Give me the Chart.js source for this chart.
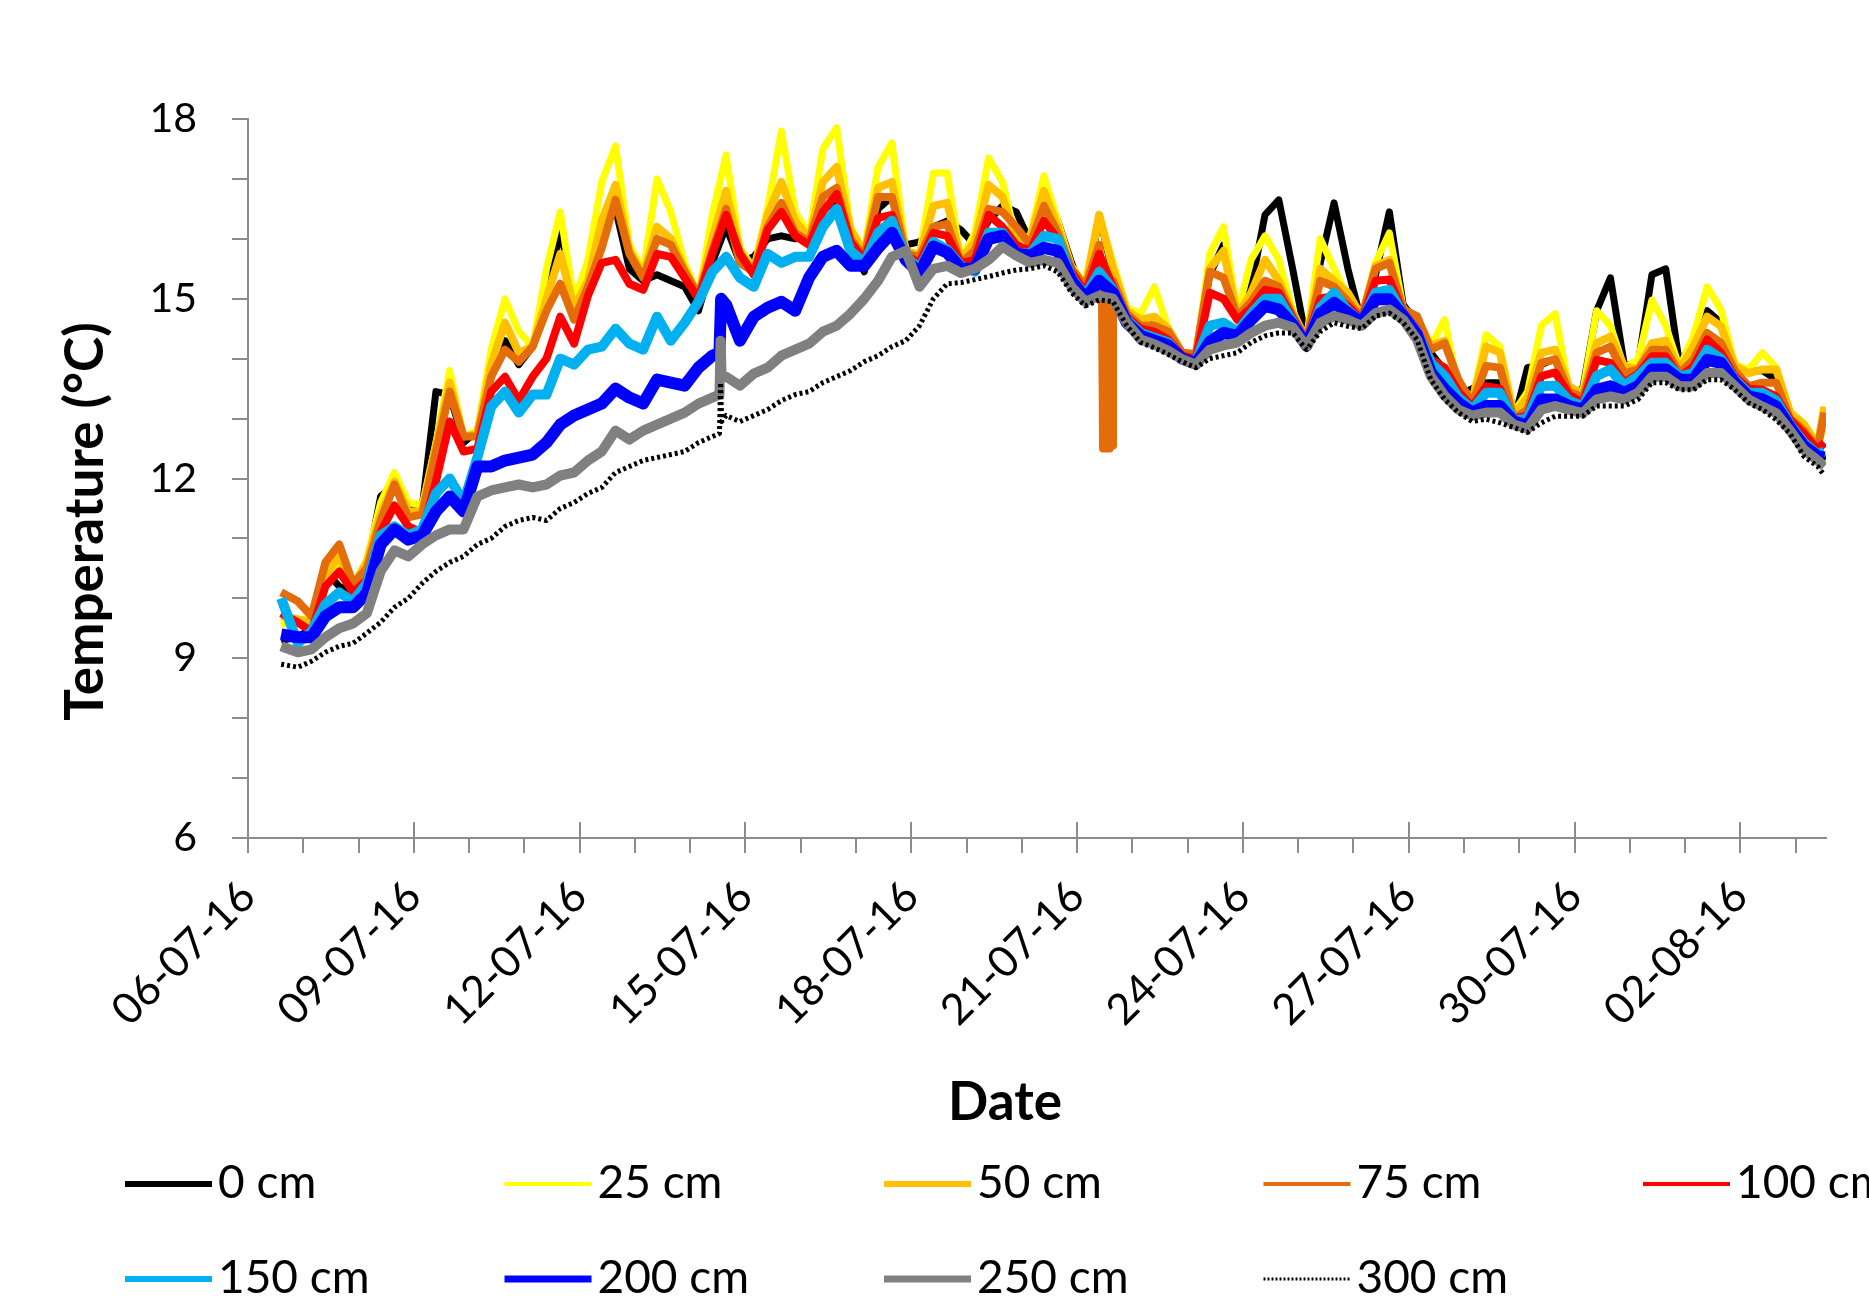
<!DOCTYPE html>
<html>
<head>
<meta charset="utf-8">
<script src="https://cdn.jsdelivr.net/npm/chart.js@4.4.1/dist/chart.umd.min.js"></script>
<style>
html,body{margin:0;padding:0;background:#ffffff;}
#wrap{width:1869px;height:1306px;position:relative;}
</style>
</head>
<body>
<div id="wrap"><canvas id="c" width="1869" height="1306"></canvas></div>
<script>
// ---------------- DATA (days since 06-07-16 00:00) ----------------
const times = [0.6, 0.9, 1.15, 1.4, 1.65, 1.9, 2.15, 2.4, 2.65, 2.9, 3.15, 3.4, 3.65, 3.9, 4.15, 4.4, 4.65, 4.9, 5.15, 5.4,
  5.65, 5.9, 6.15, 6.4, 6.65, 6.9, 7.15, 7.4, 7.65, 7.9, 8.15, 8.4, 8.65, 8.9, 9.15, 9.4, 9.65, 9.9, 10.15, 10.4,
  10.65, 10.9, 11.15, 11.4, 11.65, 11.9, 12.15, 12.4, 12.65, 12.9, 13.15, 13.4, 13.65, 13.9, 14.15, 14.4, 14.65, 14.9, 15.15, 15.4,
  15.65, 15.9, 16.15, 16.4, 16.65, 16.9, 17.15, 17.4, 17.65, 17.9, 18.15, 18.4, 18.65, 18.9, 19.15, 19.4, 19.65, 19.9, 20.15, 20.4,
  20.65, 20.9, 21.15, 21.4, 21.65, 21.9, 22.15, 22.4, 22.65, 22.9, 23.15, 23.4, 23.65, 23.9, 24.15, 24.4, 24.65, 24.9, 25.15, 25.4,
  25.65, 25.9, 26.15, 26.4, 26.65, 26.9, 27.15, 27.4, 27.65, 27.9, 28.15, 28.4, 28.52];

const t0cm = [9.3, 9.35, 9.5, 10.45, 10.2, 10.1, 10.5, 11.7, 11.9, 11.5,
  11.5, 13.45, 13.4, 12.6, 12.8, 13.8, 14.3, 13.9, 14.2, 14.9,
  16.2, 14.9, 15.4, 16.3, 16.5, 15.5, 15.3, 15.4, 15.3, 15.2,
  14.8, 15.6, 16.2, 15.6, 15.7, 16.0, 16.05, 16.0, 16.1, 16.5,
  16.6, 16.0, 15.45, 16.5, 16.7, 15.9, 15.95, 16.2, 16.3, 16.15,
  15.9, 16.3, 16.55, 16.45, 15.95, 16.9, 16.3, 15.6, 15.0, 16.4,
  15.4, 14.7, 14.6, 14.7, 14.4, 14.1, 14.0, 15.4, 15.9, 14.7,
  15.2, 16.4, 16.65, 15.5, 14.3, 15.6, 16.6, 15.5, 14.6, 15.4,
  16.45, 14.9, 14.6, 14.1, 13.8, 13.4, 13.5, 13.6, 13.6, 12.95,
  13.85, 13.9, 14.0, 13.4, 13.5, 14.8, 15.35, 13.9, 13.9, 15.4,
  15.5, 13.9, 14.3, 14.8, 14.6, 13.9, 13.8, 13.8, 13.65, 13.05,
  12.9, 12.5, 12.3];

const t25cm = [9.55, 9.65, 9.65, 10.3, 10.6, 10.2, 10.65, 11.6, 12.1, 11.6,
  11.55, 12.6, 13.8, 12.7, 12.8, 14.15, 15.0, 14.45, 14.2, 15.5,
  16.45, 14.95, 15.65, 16.95, 17.55, 15.9, 15.45, 17.0, 16.45, 15.6,
  15.05, 16.4, 17.4, 15.85, 15.5, 16.5, 17.8, 16.45, 16.05, 17.5,
  17.85, 16.2, 15.8, 17.2, 17.6, 15.8, 15.75, 17.1, 17.1, 15.65,
  16.1, 17.35, 16.95, 16.0, 16.05, 17.05, 16.3, 15.55, 15.25, 16.4,
  15.6, 14.85, 14.75, 15.2, 14.5, 14.1, 14.05, 15.75, 16.2, 14.75,
  15.65, 16.05, 15.65, 14.8, 14.32, 16.0, 15.5, 15.0, 14.7, 15.6,
  16.1, 14.85, 14.65, 14.21, 14.65, 13.5, 13.3, 14.4, 14.2, 13.1,
  13.45, 14.55, 14.75, 13.5, 13.45, 14.8, 14.55, 13.85, 13.98, 14.98,
  14.55, 13.85, 14.37, 15.2, 14.82, 13.9, 13.82, 14.1, 13.85, 13.1,
  12.93, 12.55, 12.9];

const t50cm = [9.7, 9.65, 9.6, 10.4, 10.7, 10.2, 10.6, 11.4, 11.95, 11.45,
  11.45, 12.55, 13.6, 12.7, 12.75, 13.9, 14.6, 14.1, 14.2, 15.0,
  15.75, 14.85, 15.3, 16.3, 16.9, 15.8, 15.4, 16.2, 16.0, 15.5,
  15.05, 16.0, 16.8, 15.8, 15.45, 16.4, 16.95, 16.3, 16.0, 16.95,
  17.2, 16.15, 15.75, 16.85, 16.95, 15.8, 15.72, 16.55, 16.6, 15.65,
  15.95, 16.9, 16.7, 16.0, 16.0, 16.8, 16.2, 15.5, 15.2, 16.4,
  15.5, 14.8, 14.65, 14.7, 14.5, 14.1, 14.05, 15.5, 15.8, 14.72,
  15.1, 15.65, 15.3, 14.76, 14.3, 15.5, 15.3, 15.1, 14.7, 15.55,
  15.65, 14.82, 14.68, 14.21, 14.3, 13.6, 13.3, 14.2, 14.1, 13.05,
  13.35, 14.1, 14.15, 13.54, 13.4, 14.26, 14.37, 13.87, 13.82, 14.26,
  14.3, 13.82, 14.2, 14.7, 14.54, 13.87, 13.76, 13.82, 13.82, 13.1,
  12.9, 12.55, 13.2];

const t75cm = [10.1, 9.95, 9.7, 10.6, 10.9, 10.25, 10.5, 11.3, 11.9, 11.35,
  11.4, 12.45, 13.45, 12.7, 12.7, 13.7, 14.15, 13.95, 14.2, 14.8,
  15.25, 14.65, 15.2, 15.85, 16.65, 15.75, 15.35, 16.0, 15.9, 15.45,
  15.05, 15.8, 16.5, 15.6, 15.45, 16.2, 16.6, 16.1, 15.95, 16.7,
  16.85, 16.0, 15.7, 16.7, 16.7, 15.75, 15.7, 16.2, 16.25, 15.6,
  15.8, 16.5, 16.45, 16.2, 15.9, 16.55, 16.1, 15.5, 15.2, 15.9,
  15.3, 14.75, 14.55, 14.55, 14.45, 14.1, 14.08, 15.45, 15.35, 14.7,
  14.95, 15.3, 15.2, 14.72, 14.3, 15.3, 15.2, 14.95, 14.68, 15.5,
  15.6, 14.82, 14.71, 14.15, 14.26, 13.65, 13.25, 13.88, 13.85, 13.0,
  13.15, 13.93, 13.99, 13.45, 13.35, 14.1, 14.2, 13.75, 13.82, 14.15,
  14.15, 13.76, 13.98, 14.43, 14.26, 13.8, 13.54, 13.6, 13.6, 13.0,
  12.8, 12.5, 13.1];

const t100cm = [9.75, 9.6, 9.45, 10.2, 10.45, 10.1, 10.3, 11.1, 11.55, 11.2,
  11.1, 11.95, 12.95, 12.45, 12.5, 13.45, 13.7, 13.3, 13.7, 14.0,
  14.7, 14.25, 15.05, 15.6, 15.65, 15.25, 15.15, 15.75, 15.7, 15.35,
  15.0, 15.75, 16.4, 15.75, 15.4, 16.15, 16.45, 16.05, 15.9, 16.45,
  16.75, 15.95, 15.65, 16.35, 16.4, 15.72, 15.6, 16.1, 16.05, 15.6,
  15.65, 16.4, 16.2, 15.9, 15.8, 16.3, 16.0, 15.45, 15.1, 15.75,
  15.2, 14.7, 14.5, 14.45, 14.32, 14.05, 14.0, 15.1, 15.0, 14.65,
  14.85, 15.15, 15.1, 14.68, 14.28, 15.0, 15.05, 14.88, 14.65, 15.3,
  15.32, 14.78, 14.49, 13.99, 13.85, 13.45, 13.2, 13.54, 13.5, 13.0,
  13.05, 13.71, 13.77, 13.4, 13.26, 13.98, 13.93, 13.6, 13.75, 14.04,
  14.04, 13.7, 13.87, 14.32, 14.1, 13.7, 13.5, 13.48, 13.37, 12.98,
  12.75, 12.48, 12.6];

const t150cm = [10.0, 9.25, 9.45, 9.9, 10.1, 9.95, 10.25, 11.05, 11.2, 11.05,
  11.15, 11.75, 12.0, 11.6, 12.35, 13.2, 13.45, 13.1, 13.4, 13.4,
  14.0, 13.9, 14.15, 14.2, 14.5, 14.25, 14.15, 14.7, 14.3, 14.6,
  14.95, 15.45, 15.7, 15.35, 15.2, 15.75, 15.6, 15.7, 15.7, 16.2,
  16.5, 15.8, 15.6, 16.1, 16.3, 15.7, 15.5, 15.95, 15.82, 15.55,
  15.45, 16.1, 16.1, 15.77, 15.75, 16.05, 16.0, 15.35, 15.05, 15.45,
  15.15, 14.65, 14.43, 14.35, 14.27, 14.0, 13.95, 14.55, 14.6, 14.45,
  14.75, 15.0, 15.0, 14.62, 14.25, 14.85, 15.1, 14.8, 14.62, 15.1,
  15.15, 14.74, 14.45, 13.93, 13.71, 13.35, 13.15, 13.43, 13.43, 12.97,
  13.0, 13.54, 13.55, 13.3, 13.2, 13.71, 13.82, 13.55, 13.71, 13.93,
  13.93, 13.7, 13.76, 14.15, 14.0, 13.65, 13.43, 13.43, 13.3, 12.9,
  12.6, 12.4, 12.45];

const t200cm = [9.4, 9.35, 9.35, 9.7, 9.85, 9.85, 10.08, 10.9, 11.15, 10.98,
  11.05, 11.45, 11.7, 11.45, 12.2, 12.2, 12.3, 12.35, 12.4, 12.6,
  12.9, 13.05, 13.15, 13.25, 13.5, 13.35, 13.25, 13.65, 13.6, 13.55,
  13.85, 14.05, 14.9, 14.3, 14.7, 14.85, 14.95, 14.8, 15.35, 15.7,
  15.8, 15.55, 15.55, 15.85, 16.1, 15.65, 15.43, 15.87, 15.77, 15.5,
  15.5, 16.0, 16.05, 15.75, 15.72, 15.85, 15.8, 15.3, 15.0, 15.3,
  15.1, 14.6, 14.38, 14.3, 14.22, 14.0, 13.92, 14.28, 14.43, 14.38,
  14.65, 14.88, 14.82, 14.57, 14.22, 14.75, 14.93, 14.76, 14.6, 14.99,
  14.99, 14.71, 14.4, 13.77, 13.49, 13.26, 13.1, 13.21, 13.21, 12.95,
  12.88, 13.32, 13.32, 13.21, 13.15, 13.48, 13.54, 13.43, 13.54, 13.82,
  13.82, 13.65, 13.65, 13.98, 13.93, 13.6, 13.37, 13.32, 13.2, 12.85,
  12.54, 12.37, 12.35];

const t250cm = [9.2, 9.1, 9.15, 9.35, 9.5, 9.58, 9.75, 10.45, 10.8, 10.7,
  10.9, 11.05, 11.15, 11.15, 11.7, 11.8, 11.85, 11.9, 11.85, 11.9,
  12.05, 12.1, 12.3, 12.45, 12.8, 12.65, 12.8, 12.9, 13.0, 13.1,
  13.25, 13.35, 13.7, 13.55, 13.75, 13.85, 14.05, 14.15, 14.25, 14.45,
  14.55, 14.75, 15.0, 15.3, 15.7, 15.8, 15.2, 15.5, 15.55, 15.43,
  15.5, 15.65, 15.87, 15.72, 15.6, 15.65, 15.6, 15.2, 14.95, 15.05,
  15.0, 14.6, 14.32, 14.24, 14.13, 13.99, 13.9, 14.15, 14.22, 14.27,
  14.43, 14.55, 14.6, 14.52, 14.2, 14.6, 14.71, 14.65, 14.55, 14.76,
  14.82, 14.65, 14.32, 13.71, 13.38, 13.15, 13.05, 13.1, 13.1, 12.9,
  12.83, 13.15, 13.21, 13.15, 13.09, 13.32, 13.37, 13.32, 13.43, 13.7,
  13.7, 13.54, 13.54, 13.76, 13.76, 13.54, 13.32, 13.2, 13.09, 12.8,
  12.48, 12.3, 12.2];

const t300cm = [8.9, 8.85, 8.95, 9.1, 9.2, 9.25, 9.42, 9.6, 9.85, 10.0,
  10.25, 10.45, 10.6, 10.7, 10.9, 11.0, 11.2, 11.3, 11.35, 11.3,
  11.5, 11.6, 11.75, 11.85, 12.1, 12.2, 12.3, 12.35, 12.4, 12.45,
  12.6, 12.7, 13.05, 12.95, 13.05, 13.15, 13.3, 13.4, 13.45, 13.6,
  13.7, 13.8, 13.95, 14.05, 14.2, 14.3, 14.55, 15.0, 15.25, 15.27,
  15.32, 15.37, 15.43, 15.48, 15.5, 15.55, 15.45, 15.1, 14.88, 14.98,
  14.95, 14.55, 14.27, 14.18, 14.07, 13.95, 13.85, 14.0, 14.05, 14.1,
  14.27, 14.38, 14.43, 14.43, 14.15, 14.45, 14.6, 14.54, 14.5, 14.71,
  14.76, 14.6, 14.32, 13.65, 13.32, 13.1, 12.95, 12.99, 12.93, 12.85,
  12.77, 12.93, 13.04, 13.04, 13.04, 13.21, 13.21, 13.21, 13.32, 13.6,
  13.6, 13.48, 13.48, 13.65, 13.65, 13.48, 13.26, 13.15, 12.98, 12.75,
  12.37, 12.2, 12.05];

// short events (sensor glitch at 75 cm, step on 15-07 at depth)
const glitchTimes75  = [15.45, 15.47, 15.5, 15.53, 15.56, 15.59, 15.62, 15.64];
const glitchValues75 = [15.2, 12.5, 14.9, 12.5, 14.9, 12.5, 14.9, 12.55];
const stepTimes200  = [8.53, 8.56];
const stepValues200 = [14.1, 15.0];
const stepTimes250  = [8.53, 8.55, 8.57];
const stepValues250 = [13.4, 14.3, 13.7];
const stepTimes300  = [8.53, 8.55, 8.57];
const stepValues300 = [12.75, 13.6, 12.95];

const seriesLabels = ['0 cm', '25 cm', '50 cm', '75 cm', '100 cm', '150 cm', '200 cm', '250 cm', '300 cm'];
const seriesColors = ['#000000', '#FFFF00', '#FFC000', '#E46C0A', '#FF0000', '#00B0F0', '#0000FF', '#808080', '#000000'];
const plotWidths   = [7, 7, 8, 8, 8, 10, 12, 10, 5];
const legendWidths = [6, 4, 6, 4, 4, 6, 7, 7, 3];

const xTickDays   = [0, 3, 6, 9, 12, 15, 18, 21, 24, 27];
const xTickLabels = ['06-07-16', '09-07-16', '12-07-16', '15-07-16', '18-07-16', '21-07-16', '24-07-16', '27-07-16', '30-07-16', '02-08-16'];
const yTickValues = [6, 9, 12, 15, 18];
const yTickLabels = ['6', '9', '12', '15', '18'];
const xTitle = 'Date';
const yTitle = 'Temperature (°C)';

// ---------------- BUILD ----------------
function toPoints(vals, extraT, extraV) {
  const pts = times.map((t, i) => ({ x: t, y: vals[i] }));
  if (extraT) extraT.forEach((t, i) => pts.push({ x: t, y: extraV[i] }));
  pts.sort((a, b) => a.x - b.x);
  return pts;
}
const seriesData = [
  toPoints(t0cm), toPoints(t25cm), toPoints(t50cm),
  toPoints(t75cm, glitchTimes75, glitchValues75),
  toPoints(t100cm), toPoints(t150cm),
  toPoints(t200cm, stepTimes200, stepValues200),
  toPoints(t250cm, stepTimes250, stepValues250),
  toPoints(t300cm, stepTimes300, stepValues300)
];
const datasets = seriesLabels.map((lab, i) => ({
  label: lab,
  data: seriesData[i],
  borderColor: seriesColors[i],
  backgroundColor: seriesColors[i],
  borderWidth: plotWidths[i],
  borderDash: i === 8 ? [3, 3] : [],
  borderJoinStyle: 'round',
  pointRadius: 0,
  tension: 0,
  fill: false,
  order: seriesLabels.length - i
}));

const AXIS = '#8c8c8c';
const FONT = 'Lato';

const decor = {
  id: 'decor',
  afterDraw(chart) {
    const { ctx, scales: { x, y } } = chart;
    ctx.save();
    // major x ticks cross the axis line
    ctx.strokeStyle = AXIS; ctx.lineWidth = 2;
    xTickDays.forEach(d => {
      const px = Math.round(x.getPixelForValue(d));
      ctx.beginPath(); ctx.moveTo(px, y.bottom); ctx.lineTo(px, y.bottom - 16); ctx.stroke();
    });
    // axis titles
    ctx.fillStyle = '#000';
    ctx.font = 'bold 53px ' + FONT;
    ctx.textAlign = 'center'; ctx.textBaseline = 'alphabetic';
    const cx = (x.left + x.right) / 2 - 32;
    ctx.fillText(xTitle, cx, 1120);
    ctx.save();
    ctx.translate(103, (y.top + y.bottom) / 2 + 43);
    ctx.rotate(-Math.PI / 2);
    ctx.fillText(yTitle, 0, 0);
    ctx.restore();
    // legend grid
    ctx.font = '46px ' + FONT;
    ctx.textAlign = 'left';
    chart.data.datasets.forEach((ds, i) => {
      const col = i % 5, row = Math.floor(i / 5);
      const lx = 125 + col * 379.5;
      const ly = row === 0 ? 1184 : 1279;
      ctx.save();
      ctx.strokeStyle = ds.borderColor; ctx.lineWidth = legendWidths[i];
      ctx.setLineDash(i === 8 ? [2, 2] : []);
      ctx.lineCap = 'butt';
      ctx.beginPath(); ctx.moveTo(lx, ly); ctx.lineTo(lx + 87, ly); ctx.stroke();
      ctx.restore();
      ctx.fillStyle = '#000';
      ctx.fillText(ds.label, lx + 93, ly + 14);
    });
    ctx.restore();
  }
};

new Chart(document.getElementById('c').getContext('2d'), {
  type: 'line',
  data: { datasets },
  options: {
    responsive: false,
    animation: false,
    devicePixelRatio: 1,
    layout: { padding: { top: 119, right: 43, bottom: 0, left: 0 } },
    plugins: { legend: { display: false }, tooltip: { enabled: false } },
    scales: {
      x: {
        type: 'linear', min: 0, max: 28.55,
        afterFit: s => { s.height = 468; },
        afterBuildTicks: s => { const t = []; for (let d = 0; d <= 28; d++) t.push({ value: d }); s.ticks = t; },
        border: { color: AXIS, width: 2 },
        grid: { drawOnChartArea: false, drawTicks: true, tickLength: 15, color: AXIS, lineWidth: 2 },
        ticks: {
          autoSkip: false, maxRotation: 45, minRotation: 45, padding: 18, color: '#000',
          font: { family: FONT, size: 43 },
          callback: v => { const k = xTickDays.indexOf(v); return k >= 0 ? xTickLabels[k] : ''; }
        }
      },
      y: {
        min: 6, max: 18,
        afterFit: s => { s.width = 248; },
        border: { color: AXIS, width: 2 },
        grid: { drawOnChartArea: false, drawTicks: true, tickLength: 16, color: AXIS, lineWidth: 2 },
        ticks: {
          stepSize: 1, autoSkip: false, padding: 35, color: '#000',
          font: { family: FONT, size: 41 },
          callback: v => { const k = yTickValues.indexOf(v); return k >= 0 ? yTickLabels[k] : ''; }
        }
      }
    }
  },
  plugins: [decor]
});
</script>
</body>
</html>
